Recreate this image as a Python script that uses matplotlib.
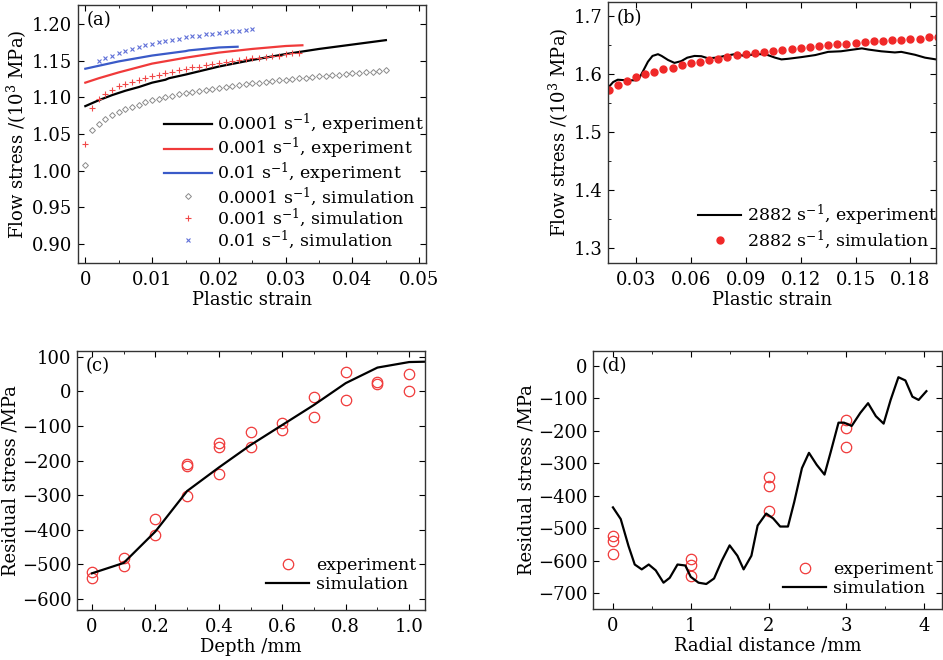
import numpy as np
import matplotlib
matplotlib.use("Agg")
import matplotlib.pyplot as plt
from matplotlib.ticker import MultipleLocator

plt.rcParams.update(
    {
        "font.family": "serif",
        "font.serif": ["DejaVu Serif"],
        "mathtext.fontset": "dejavuserif",
        "font.size": 13,
        "legend.fontsize": 12.5,
        "xtick.direction": "in",
        "ytick.direction": "in",
        "xtick.top": True,
        "ytick.right": True,
        "xtick.major.size": 4,
        "ytick.major.size": 4,
        "xtick.minor.size": 2.5,
        "ytick.minor.size": 2.5,
        "axes.linewidth": 1.0,
        "axes.edgecolor": "#333333",
    }
)

# ---- (a) quasi-static flow curves
STRAIN_EXP_1 = [0, 0.002, 0.004, 0.006, 0.008, 0.010, 0.012, 0.0125, 0.015, 0.020, 0.025, 0.030, 0.035, 0.040, 0.045]
STRESS_EXP_1 = [1.088, 1.096, 1.103, 1.109, 1.114, 1.120, 1.124, 1.126, 1.131, 1.142, 1.151, 1.159, 1.166, 1.172, 1.178]
STRAIN_EXP_2 = [0, 0.002, 0.005, 0.010, 0.015, 0.020, 0.025, 0.030, 0.0325]
STRESS_EXP_2 = [1.120, 1.126, 1.134, 1.146, 1.154, 1.161, 1.166, 1.170, 1.171]
STRAIN_EXP_3 = [0, 0.002, 0.005, 0.010, 0.015, 0.0155, 0.020, 0.0228]
STRESS_EXP_3 = [1.139, 1.143, 1.149, 1.157, 1.163, 1.164, 1.168, 1.169]

# simulation output every 0.001 strain
STRAIN_SIM_1 = np.round(np.arange(0, 0.0455, 0.001), 3)
STRESS_SIM_1 = [1.008, 1.055, 1.064, 1.071, 1.076, 1.080, 1.084, 1.087, 1.090, 1.093,
                1.096, 1.098, 1.100, 1.102, 1.104, 1.106, 1.107, 1.109, 1.110, 1.112,
                1.113, 1.114, 1.116, 1.117, 1.118, 1.119, 1.120, 1.121, 1.122, 1.123,
                1.124, 1.125, 1.126, 1.127, 1.128, 1.129, 1.129, 1.130, 1.131, 1.132,
                1.133, 1.133, 1.134, 1.135, 1.136, 1.137]
STRAIN_SIM_2 = np.round(np.arange(0, 0.0325, 0.001), 3)
STRESS_SIM_2 = [1.036, 1.086, 1.098, 1.104, 1.110, 1.115, 1.118, 1.121, 1.124, 1.127,
                1.129, 1.131, 1.133, 1.135, 1.137, 1.139, 1.141, 1.142, 1.144, 1.145,
                1.147, 1.148, 1.150, 1.151, 1.152, 1.153, 1.154, 1.155, 1.156, 1.157,
                1.159, 1.160, 1.161]
STRAIN_SIM_3 = np.round(np.arange(0.002, 0.0255, 0.001), 3)
STRESS_SIM_3 = [1.149, 1.153, 1.157, 1.160, 1.163, 1.166, 1.168, 1.171, 1.173, 1.175,
                1.177, 1.178, 1.180, 1.182, 1.183, 1.184, 1.186, 1.187, 1.188, 1.189,
                1.190, 1.191, 1.192, 1.193]

# ---- (b) dynamic flow curve, 2882 s^-1
STRAIN_DYN_EXP = [0.0147, 0.0175, 0.020, 0.0245, 0.030, 0.032, 0.0337, 0.0365, 0.039, 0.042,
                  0.044, 0.0475, 0.051, 0.0547, 0.058, 0.062, 0.0657, 0.0693, 0.074, 0.0785,
                  0.084, 0.0895, 0.095, 0.0985, 0.102, 0.106, 0.1095, 0.113, 0.1205, 0.128,
                  0.135, 0.142, 0.150, 0.1535, 0.157, 0.164, 0.1715, 0.175, 0.1825, 0.188, 0.194]
STRESS_DYN_EXP = [1.576, 1.586, 1.590, 1.589, 1.589, 1.594, 1.604, 1.621, 1.631, 1.634,
                  1.631, 1.624, 1.619, 1.622, 1.628, 1.631, 1.6305, 1.627, 1.628, 1.631,
                  1.634, 1.631, 1.634, 1.634, 1.6325, 1.628, 1.625, 1.626, 1.629, 1.6325,
                  1.638, 1.639, 1.6425, 1.644, 1.642, 1.639, 1.637, 1.638, 1.633, 1.628, 1.625]
STRAIN_DYN_SIM = np.round(np.arange(0.015, 0.1955, 0.005), 3)
STRESS_DYN_SIM = [1.572, 1.581, 1.588, 1.594, 1.600, 1.604, 1.608, 1.611, 1.615, 1.618,
                  1.621, 1.624, 1.626, 1.629, 1.632, 1.634, 1.636, 1.638, 1.640, 1.642,
                  1.643, 1.645, 1.646, 1.648, 1.650, 1.651, 1.652, 1.654, 1.655, 1.656,
                  1.657, 1.658, 1.659, 1.660, 1.661, 1.663, 1.664]

# ---- (c) residual stress vs depth
DEPTH_EXP = [0, 0, 0.1, 0.1, 0.2, 0.2, 0.3, 0.3, 0.3, 0.4, 0.4, 0.4, 0.5, 0.5,
             0.6, 0.6, 0.7, 0.7, 0.8, 0.8, 0.9, 0.9, 1.0, 1.0]
RS_DEPTH_EXP = [-521, -540, -482, -506, -368, -415, -210, -215, -301, -150, -161, -238, -116, -161,
                -90, -111, -17, -73, 55, -26, 26, 22, 50, 2]
DEPTH_SIM = [0, 0.1, 0.2, 0.3, 0.4, 0.5, 0.6, 0.7, 0.8, 0.9, 1.0, 1.05]
RS_DEPTH_SIM = [-526, -496, -405, -288, -220, -155, -97, -39, 24, 69, 85, 86]

# ---- (d) residual stress vs radial distance
RADIAL_EXP = [0, 0, 0, 1, 1, 1, 2, 2, 2, 3, 3, 3]
RS_RADIAL_EXP = [-524, -541, -579, -595, -614, -646, -341, -370, -447, -168, -190, -250]
RADIAL_SIM = [0, 0.10, 0.20, 0.28, 0.37, 0.46, 0.55, 0.65, 0.73, 0.83, 0.93, 1.00, 1.10, 1.20,
              1.30, 1.40, 1.50, 1.60, 1.68, 1.78, 1.86, 1.97, 2.06, 2.15, 2.25, 2.33, 2.43,
              2.52, 2.62, 2.72, 2.80, 2.90, 2.97, 3.07, 3.18, 3.28, 3.38, 3.48, 3.57, 3.67,
              3.76, 3.85, 3.93, 4.03]
RS_RADIAL_SIM = [-436, -472, -555, -612, -627, -612, -630, -668, -653, -612, -615, -650, -668, -672,
                 -655, -600, -553, -585, -627, -585, -492, -455, -470, -495, -495, -420, -315,
                 -268, -305, -335, -265, -175, -175, -185, -145, -115, -155, -178, -105, -35,
                 -45, -95, -105, -78]

RED = "#f03a3a"
BLUE = "#3a5ac8"

fig = plt.figure(figsize=(9.43, 6.60), dpi=100)

ax_a = fig.add_axes([0.0827, 0.6015, 0.369, 0.391])
ax_b = fig.add_axes([0.6448, 0.6015, 0.3478, 0.3955])
ax_c = fig.add_axes([0.0817, 0.0758, 0.369, 0.3924])
ax_d = fig.add_axes([0.6288, 0.0773, 0.3701, 0.391])

# (a)
ax_a.plot(STRAIN_EXP_1, STRESS_EXP_1, color="black", lw=1.6, label="0.0001 s$^{-1}$, experiment")
ax_a.plot(STRAIN_EXP_2, STRESS_EXP_2, color=RED, lw=1.6, label="0.001 s$^{-1}$, experiment")
ax_a.plot(STRAIN_EXP_3, STRESS_EXP_3, color=BLUE, lw=1.6, label="0.01 s$^{-1}$, experiment")
ax_a.plot(STRAIN_SIM_1, STRESS_SIM_1, ls="none", marker="D", ms=3, mfc="none", mec="#8a8a8a", mew=0.7,
          label="0.0001 s$^{-1}$, simulation")
ax_a.plot(STRAIN_SIM_2, STRESS_SIM_2, ls="none", marker="+", ms=5, mec="#f04848", mew=0.8,
          label="0.001 s$^{-1}$, simulation")
ax_a.plot(STRAIN_SIM_3, STRESS_SIM_3, ls="none", marker="x", ms=3.5, mec="#6070d8", mew=0.8,
          label="0.01 s$^{-1}$, simulation")
ax_a.set_xlim(-0.0011, 0.051)
ax_a.set_ylim(0.874, 1.226)
ax_a.set_xticks([0, 0.01, 0.02, 0.03, 0.04, 0.05])
ax_a.set_xticklabels(["0", "0.01", "0.02", "0.03", "0.04", "0.05"])
ax_a.xaxis.set_minor_locator(MultipleLocator(0.005))
ax_a.set_yticks([0.90, 0.95, 1.00, 1.05, 1.10, 1.15, 1.20])
ax_a.set_yticklabels(["0.90", "0.95", "1.00", "1.05", "1.10", "1.15", "1.20"])
ax_a.set_xlabel("Plastic strain", labelpad=1)
ax_a.set_ylabel("Flow stress /(10$^3$ MPa)", labelpad=2)
ax_a.legend(loc="lower right", bbox_to_anchor=(1.03, 0.0), frameon=False, handlelength=2.8,
            handletextpad=0.3, labelspacing=-0.05, borderpad=0.2)

# (b)
ax_b.plot(STRAIN_DYN_EXP, STRESS_DYN_EXP, color="black", lw=1.5, label="2882 s$^{-1}$, experiment")
ax_b.plot(STRAIN_DYN_SIM, STRESS_DYN_SIM, ls="none", marker="o", ms=5, color="#f02828",
          label="2882 s$^{-1}$, simulation")
ax_b.set_xlim(0.0147, 0.194)
ax_b.set_ylim(1.274, 1.724)
ax_b.set_xticks([0.03, 0.06, 0.09, 0.12, 0.15, 0.18])
ax_b.set_yticks([1.3, 1.4, 1.5, 1.6, 1.7])
ax_b.yaxis.set_minor_locator(MultipleLocator(0.05))
ax_b.set_xlabel("Plastic strain", labelpad=1)
ax_b.set_ylabel("Flow stress /(10$^3$ MPa)", labelpad=2)
ax_b.legend(loc="lower right", bbox_to_anchor=(1.04, 0.0), frameon=False, handlelength=2.5,
            handletextpad=0.3, labelspacing=0.0, borderpad=0.2)

# (c)
ax_c.plot(DEPTH_EXP, RS_DEPTH_EXP, ls="none", marker="o", ms=7.5, mfc="none", mec=RED, mew=0.9,
          label="experiment")
ax_c.plot(DEPTH_SIM, RS_DEPTH_SIM, color="black", lw=1.6, label="simulation")
ax_c.set_xlim(-0.047, 1.05)
ax_c.set_ylim(-632, 117)
ax_c.set_xticks([0, 0.2, 0.4, 0.6, 0.8, 1.0])
ax_c.set_xticklabels(["0", "0.2", "0.4", "0.6", "0.8", "1.0"])
ax_c.xaxis.set_minor_locator(MultipleLocator(0.1))
ax_c.set_yticks([-600, -500, -400, -300, -200, -100, 0, 100])
ax_c.set_xlabel("Depth /mm", labelpad=1)
ax_c.set_ylabel("Residual stress /MPa", labelpad=2)
ax_c.legend(loc="lower right", bbox_to_anchor=(1.01, 0.02), frameon=False, handlelength=2.5,
            handletextpad=0.4, labelspacing=0.1, borderpad=0.2)

# (d)
ax_d.plot(RADIAL_EXP, RS_RADIAL_EXP, ls="none", marker="o", ms=7.5, mfc="none", mec=RED, mew=0.9,
          label="experiment")
ax_d.plot(RADIAL_SIM, RS_RADIAL_SIM, color="black", lw=1.6, label="simulation")
ax_d.set_xlim(-0.257, 4.23)
ax_d.set_ylim(-749, 46)
ax_d.set_xticks([0, 1, 2, 3, 4])
ax_d.xaxis.set_minor_locator(MultipleLocator(0.5))
ax_d.set_yticks([-700, -600, -500, -400, -300, -200, -100, 0])
ax_d.set_xlabel("Radial distance /mm", labelpad=1)
ax_d.set_ylabel("Residual stress /MPa", labelpad=2)
ax_d.legend(loc="lower right", bbox_to_anchor=(1.01, 0.0), frameon=False, handlelength=2.5,
            handletextpad=0.4, labelspacing=0.1, borderpad=0.2)

for ax, tag in [(ax_a, "(a)"), (ax_b, "(b)"), (ax_c, "(c)"), (ax_d, "(d)")]:
    ax.text(0.025, 0.94, tag, transform=ax.transAxes, ha="left", va="center", fontsize=13)
    ax.tick_params(which="both", top=True, right=True, pad=4)
    ax.tick_params(axis="x", which="major", pad=6)

fig.savefig("out.png", dpi=100)
